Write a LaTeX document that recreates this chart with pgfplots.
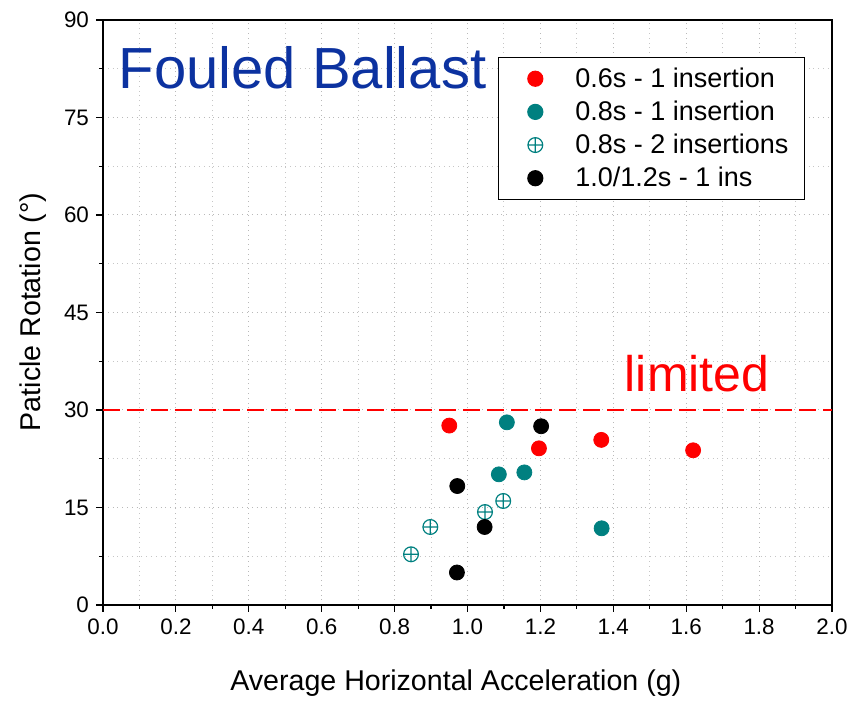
\documentclass[border=0pt]{standalone}
\usepackage{fontspec}
\setmainfont{Liberation Sans}
\usepackage{pgfplots}
\pgfplotsset{compat=1.18}
\definecolor{tealc}{RGB}{0,128,128}
\definecolor{titleblue}{RGB}{12,50,160}
\pgfplotsset{mylegimg/.style={legend image code/.code={\path[draw=none,fill=none] (-12.5pt,0) rectangle (18pt,0); \draw[##1] plot coordinates {(0pt,0pt)};}}}
\begin{document}
\begin{tikzpicture}
\begin{axis}[
  scale only axis,
  width=364.5pt, height=292.5pt,
  xmin=0, xmax=2, ymin=0, ymax=90,
  xtick={0,0.2,...,2.0},
  ytick={0,15,30,45,60,75,90},
  minor x tick num=1, minor y tick num=1,
  tick align=outside,
  major tick length=3.5pt, minor tick length=2pt,
  tick style={black, line width=0.6pt},
  axis line style={line width=0.9pt},
  xtick pos=bottom, ytick pos=left,
  grid=both,
  major grid style={gray!55, dotted, line width=0.5pt},
  minor grid style={gray!45, dotted, line width=0.5pt},
  /pgf/number format/assume math mode=true,
  xticklabel style={/pgf/number format/fixed, /pgf/number format/fixed zerofill, /pgf/number format/precision=1},
  ticklabel style={font=\fontsize{11.2}{13}\selectfont},
  xlabel={Average Horizontal Acceleration (g)},
  ylabel={Paticle Rotation (°)},
  label style={font=\fontsize{14.3}{16}\selectfont},
  xlabel style={at={(axis description cs:0.484,-0.1333)}, anchor=center},
  ylabel style={at={(axis description cs:-0.096,0.501)}, anchor=center},
  clip=false,
  legend style={at={(rel axis cs:0.963,0.937)}, anchor=north east, draw=black, line width=0.6pt,
    font=\fontsize{13.5}{15}\selectfont, row sep=1.3pt, inner xsep=6pt, inner ysep=3pt},
  legend cell align=left,
]
\addplot[red, dashed, dash pattern=on 8.5pt off 3.5pt, line width=1pt, forget plot] coordinates {(0,30) (2,30)};

\addplot[only marks, mark=*, mark size=3.75pt, draw=red, fill=red, mylegimg] coordinates {
(0.950,27.6) (1.196,24.1) (1.367,25.4) (1.619,23.8)};
\addlegendentry{0.6s - 1 insertion}

\addplot[only marks, mark=*, mark size=3.75pt, draw=tealc, fill=tealc, mylegimg] coordinates {
(1.108,28.1) (1.086,20.1) (1.156,20.4) (1.368,11.8)};
\addlegendentry{0.8s - 1 insertion}

\addplot[only marks, mark=oplus, mark size=3.7pt, draw=tealc, line width=0.6pt, fill=white, mylegimg] coordinates {
(0.845,7.8) (0.898,12.0) (1.048,14.3) (1.098,16.0)};
\addlegendentry{0.8s - 2 insertions}

\addplot[only marks, mark=*, mark size=3.75pt, draw=black, fill=black, mylegimg] coordinates {
(1.202,27.5) (0.972,18.3) (1.047,12.0) (0.971,5.0)};
\addlegendentry{1.0/1.2s - 1 ins}

\node[anchor=west, text=titleblue, font=\fontsize{29}{33}\selectfont, inner sep=0pt] at (rel axis cs:0.021,0.918) {Fouled Ballast};
\node[anchor=center, text=red, font=\fontsize{25}{29}\selectfont, inner sep=0pt] at (axis cs:1.63,35.6) {limited};
\end{axis}
\path ([shift={(-51.5pt,-47.5pt)}]current axis.south west) rectangle ([shift={(17.5pt,10pt)}]current axis.north east);
\end{tikzpicture}
\end{document}
